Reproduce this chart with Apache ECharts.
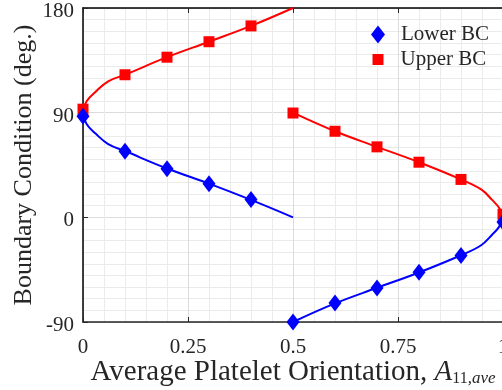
<!DOCTYPE html>
<html>
<head>
<meta charset="utf-8">
<script src="https://cdn.jsdelivr.net/npm/echarts@6/dist/echarts.min.js"></script>
<style>html,body{margin:0;padding:0;background:#fff}#c{width:502px;height:390px}</style>
</head>
<body>
<div id="c"></div>
<script>
// Axis ticks
var xTicks = [0, 0.25, 0.5, 0.75, 1];
var yTicks = [-90, 0, 90, 180];

// Marker data
var markerX = [0, 0.1, 0.2, 0.3, 0.4, 0.5, 0.6, 0.7, 0.8, 0.9, 1.0];
var lowerBC = [87, 56.8, 41.7, 28.9, 15.4, -90, -73.7, -60.8, -47.2, -32.8, -4];
var upperBC = [93, 122.6, 137.7, 151, 164.6, 89.7, 74, 60.6, 47.4, 32.6, 2.6];

// Fitted curves
var lowerCurve1X = [0, 0.009, 0.03, 0.06, 0.1, 0.2, 0.3, 0.4, 0.5];
var lowerCurve1Y = [90, 80, 72, 63, 57, 42, 29, 15, 0];
var upperCurve1X = [0, 0.009, 0.03, 0.06, 0.1, 0.2, 0.3, 0.4, 0.5];
var upperCurve1Y = [90, 100, 108, 117, 122.6, 137.7, 151, 164.6, 180];
var lowerCurve2X = [0.5, 0.6, 0.7, 0.8, 0.9, 0.948, 0.974, 0.991, 1.0];
var lowerCurve2Y = [-90, -74, -60.6, -47.4, -32.6, -24, -15, -8, 0];
var upperCurve2X = [0.5, 0.6, 0.7, 0.8, 0.9, 0.948, 0.974, 0.991, 1.0];
var upperCurve2Y = [90, 74, 60.6, 47.4, 32.6, 24, 15, 8, 0];

function pairs(xs, ys) { return xs.map(function (x, i) { return [x, ys[i]]; }); }

var BLUE = '#0000ff', RED = '#ff0000', TXT = '#262626';
var FONT = '"Liberation Serif", "Times New Roman", serif';

var chart = echarts.init(document.getElementById('c'));

function lineSeries(name, xs, ys, color) {
  return {
    name: name, type: 'line', data: pairs(xs, ys), showSymbol: false, symbol: 'none',
    smooth: 0.4,
    lineStyle: { color: color, width: 2 }, itemStyle: { color: color },
    silent: true, z: 3, clip: true
  };
}

chart.setOption({
  animation: false,
  backgroundColor: '#ffffff',
  grid: { left: 83, top: 8, width: 420, height: 314, containLabel: false, outerBoundsMode: 'none' },
  legend: [
    {
      data: ['Lower BC'], icon: 'diamond', itemWidth: 14, itemHeight: 18,
      left: 366, top: 19, selectedMode: false,
      textStyle: { fontFamily: FONT, fontSize: 21, color: TXT, padding: [0, 0, 0, 11] }
    },
    {
      data: ['Upper BC'], icon: 'rect', itemWidth: 11, itemHeight: 11,
      left: 367.5, top: 44, selectedMode: false,
      textStyle: { fontFamily: FONT, fontSize: 21, color: TXT, padding: [0, 0, 0, 12] }
    }
  ],
  xAxis: [
    {
      type: 'value', min: xTicks[0], max: xTicks[xTicks.length - 1], interval: 0.25,
      axisLine: { show: true, onZero: false, lineStyle: { color: TXT, width: 1.5 } },
      axisTick: { show: true, inside: true, length: 5, lineStyle: { color: TXT } },
      axisLabel: {
        fontFamily: FONT, fontSize: 21, color: TXT, margin: 15,
        formatter: function (v) { return xTicks.indexOf(v) >= 0 ? String(v) : ''; }
      },
      splitLine: { show: true, lineStyle: { color: '#dcdcdc', width: 1 } },
      minorTick: { show: false, splitNumber: 5 },
      minorSplitLine: { show: true, lineStyle: { color: '#ebebeb', width: 1 } },
      name: '{n|Average Platelet Orientation, }{a|A}{s|11}{t|,ave}',
      nameLocation: 'middle', nameGap: 36, nameMoveOverlap: false,
      nameTextStyle: {
        fontFamily: FONT, fontSize: 29, color: TXT,
        rich: {
          n: { fontFamily: FONT, fontSize: 29, color: TXT },
          a: { fontFamily: FONT, fontSize: 29, fontStyle: 'italic', color: TXT },
          s: { fontFamily: FONT, fontSize: 16, color: TXT, verticalAlign: 'bottom' },
          t: { fontFamily: FONT, fontSize: 17, fontStyle: 'italic', color: TXT, verticalAlign: 'bottom' }
        }
      }
    },
    {
      type: 'value', position: 'top', min: 0, max: 1, interval: 0.25,
      axisLine: { show: true, onZero: false, lineStyle: { color: '#000', width: 1.5 } },
      axisTick: { show: true, inside: true, length: 5, lineStyle: { color: TXT } },
      axisLabel: { show: false }, splitLine: { show: false }
    }
  ],
  yAxis: [
    {
      type: 'value', min: yTicks[0], max: yTicks[yTicks.length - 1], interval: 90,
      axisLine: { show: true, onZero: false, lineStyle: { color: '#000', width: 1.5 } },
      axisTick: { show: true, inside: true, length: 5, lineStyle: { color: TXT } },
      axisLabel: {
        fontFamily: FONT, fontSize: 21, color: TXT, margin: 9,
        formatter: function (v) { return '{v|' + v + '}'; },
        rich: { v: { fontFamily: FONT, fontSize: 21, color: TXT, padding: [7, 0, 0, 0] } }
      },
      splitLine: { show: true, lineStyle: { color: '#dcdcdc', width: 1 } },
      minorTick: { show: false, splitNumber: 9 },
      minorSplitLine: { show: true, lineStyle: { color: '#ebebeb', width: 1 } },
      name: 'Boundary Condition (deg.)', nameLocation: 'middle', nameGap: 46, nameRotate: 90,
      nameMoveOverlap: false,
      nameTextStyle: { fontFamily: FONT, fontSize: 26, color: TXT }
    }
  ],
  series: [
    lineSeries('upperCurve1', upperCurve1X, upperCurve1Y, RED),
    lineSeries('upperCurve2', upperCurve2X, upperCurve2Y, RED),
    lineSeries('lowerCurve1', lowerCurve1X, lowerCurve1Y, BLUE),
    lineSeries('lowerCurve2', lowerCurve2X, lowerCurve2Y, BLUE),
    {
      name: 'Upper BC', type: 'scatter', data: pairs(markerX, upperBC),
      symbol: 'rect', symbolSize: 11, itemStyle: { color: RED, opacity: 1 }, z: 4, clip: false
    },
    {
      name: 'Lower BC', type: 'scatter', data: pairs(markerX, lowerBC),
      symbol: 'diamond', symbolSize: [13, 17], itemStyle: { color: BLUE, opacity: 1 }, z: 5, clip: false
    }
  ]
});
</script>
</body>
</html>
